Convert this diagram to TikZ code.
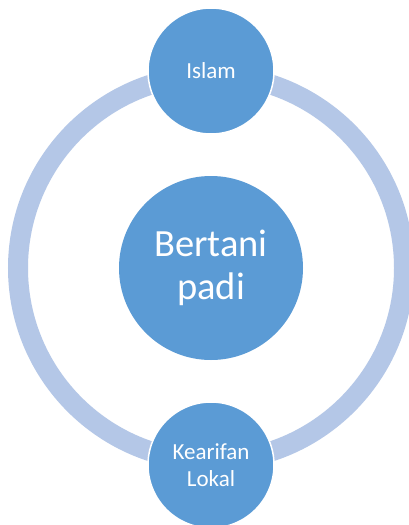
\documentclass[tikz,border=0pt]{standalone}
\usepackage{fontspec}
\setmainfont{Carlito}
\definecolor{nodeblue}{HTML}{5B9BD5}
\definecolor{ringblue}{HTML}{B4C7E7}
\begin{document}
\begin{tikzpicture}[x=1pt,y=1pt,
  ringline/.style={draw=ringblue, line width=20pt},
  smallnode/.style={circle, fill=nodeblue, draw=white, line width=1.5pt, minimum size=126pt, inner sep=0pt, text=white, align=center, font=\fontsize{23}{27}\selectfont},
  bignode/.style={circle, fill=nodeblue, minimum size=184pt, inner sep=0pt, text=white, align=center, font=\fontsize{38.5}{43.5}\selectfont}]
\useasboundingbox (0,0) rectangle (408,-525);
\fill[white] (0,0) rectangle (408,-525);
\coordinate (ringc) at (211,-268);
\draw[ringline] (ringc) circle (193);
\node[bignode] (center) at (211,-268) {Bertani\\padi};
\node[smallnode] (islam) at (211,-71) {Islam};
\node[smallnode] (kearifan) at (211,-465) {Kearifan\\Lokal};
\end{tikzpicture}
\end{document}
